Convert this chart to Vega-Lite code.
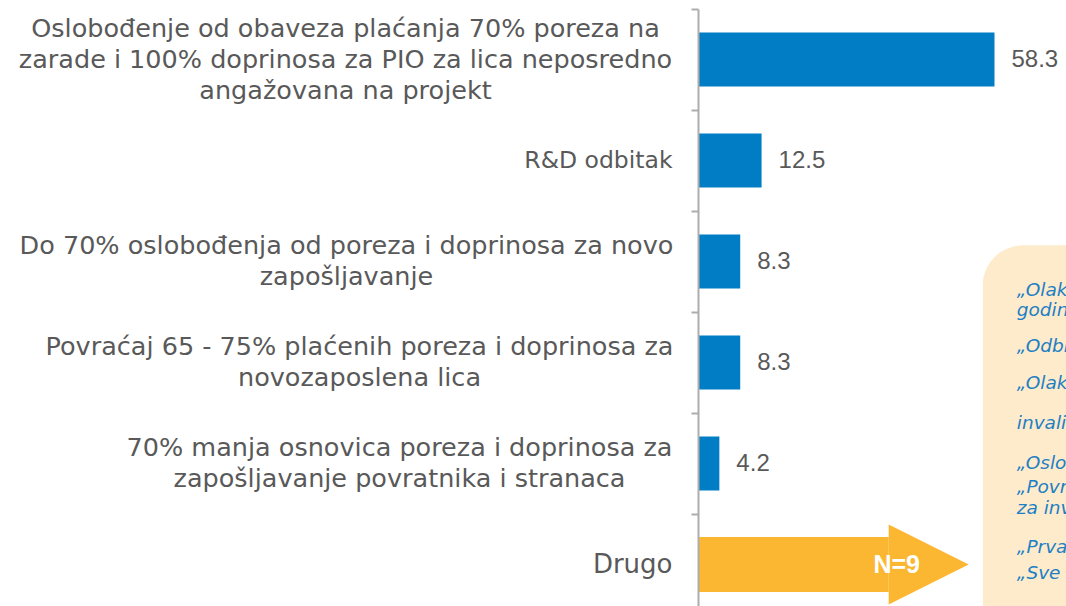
{
  "$schema": "https://vega.github.io/schema/vega-lite/v6.json",
  "width": 356,
  "height": 606,
  "autosize": {"type": "none"},
  "padding": {"left": 698, "top": 0, "right": 12, "bottom": 0},
  "background": "white",
  "config": {"view": {"stroke": null}, "font": "DejaVu Sans"},
  "datasets": {
    "bars": [
      {"label": "Oslobođenje od obaveza plaćanja 70% poreza na\nzarade i 100% doprinosa za PIO za lica neposredno\nangažovana na projekt", "value": 58.3, "arrow": null, "note": null},
      {"label": "R&D odbitak", "value": 12.5, "arrow": null, "note": null},
      {"label": "Do 70% oslobođenja od poreza i doprinosa za novo\nzapošljavanje", "value": 8.3, "arrow": null, "note": null},
      {"label": "Povraćaj 65 - 75% plaćenih poreza i doprinosa za\nnovozaposlena lica", "value": 8.3, "arrow": null, "note": null},
      {"label": "70% manja osnovica poreza i doprinosa za\nzapošljavanje povratnika i stranaca", "value": 4.2, "arrow": null, "note": null},
      {"label": "Drugo", "value": null, "arrow": 37.5, "note": "N=9"}
    ],
    "box": [{"x1": 56, "x2": 150, "y1": 2.34, "y2": 7}],
    "comments": [
      {"line": "„Olakšice za ulaganja u trajanju od 10", "pos": 2.782},
      {"line": "godina“", "pos": 2.985},
      {"line": "„Odbitak za ulaganja u osnovna sredstva“", "pos": 3.337},
      {"line": "„Olakšice za zapošljavanje osoba sa", "pos": 3.703},
      {"line": "invaliditetom“", "pos": 4.099},
      {"line": "„Oslobođenje od poreza na imovinu“", "pos": 4.495},
      {"line": "„Povraćaj dela sredstava uloženih", "pos": 4.728},
      {"line": "za investicije“", "pos": 4.936},
      {"line": "„Prva godina poslovanja bez poreza“", "pos": 5.327},
      {"line": "„Sve navedeno“", "pos": 5.584}
    ]
  },
  "layer": [
    {
      "data": {"name": "bars"},
      "resolve": {"axis": {"y": "independent"}},
      "layer": [
        {
          "mark": {"type": "bar", "color": "#007DC5", "height": {"band": 0.535}},
          "encoding": {
            "y": {
              "field": "label", "type": "nominal", "sort": null,
              "scale": {
                "domain": [
                  "Oslobođenje od obaveza plaćanja 70% poreza na\nzarade i 100% doprinosa za PIO za lica neposredno\nangažovana na projekt",
                  "R&D odbitak",
                  "Do 70% oslobođenja od poreza i doprinosa za novo\nzapošljavanje",
                  "Povraćaj 65 - 75% plaćenih poreza i doprinosa za\nnovozaposlena lica",
                  "70% manja osnovica poreza i doprinosa za\nzapošljavanje povratnika i stranaca",
                  "Drugo"
                ],
                "range": [9, 615], "paddingInner": 0, "paddingOuter": 0
              },
              "axis": {
                "orient": "left", "title": null, "zindex": 1,
                "domain": true, "domainColor": "#ADADAD", "domainWidth": 2,
                "ticks": true, "tickColor": "#ADADAD", "tickWidth": 2, "tickSize": 7, "tickBand": "extent",
                "grid": false,
                "labelPadding": 19, "labelAlign": "right", "labelBaseline": "middle",
                "labelFont": "DejaVu Sans",
                "labelFontSize": {"condition": {"test": "datum.label == 'Drugo'", "value": 26}, "value": 23.5},
                "labelColor": "#595959", "labelLimit": 0,
                "labelExpr": "datum.label == 'R&D odbitak' || datum.label == 'Drugo' ? datum.label : ''"
              }
            },
            "x": {"field": "value", "type": "quantitative", "scale": {"domain": [0, 70]}, "axis": null}
          }
        },
        {
          "mark": {"type": "text", "align": "left", "baseline": "middle", "dx": 17, "fontSize": 24, "color": "#595959", "font": "Liberation Sans"},
          "encoding": {
            "y": {
              "field": "label", "type": "nominal", "sort": null,
              "axis": {
                "orient": "left", "title": null, "domain": false, "ticks": false, "tickSize": 0, "grid": false,
                "labelPadding": 353, "labelOffset": -31, "labelAlign": "center", "labelBaseline": "middle", "labelLineHeight": 31,
                "labelFont": "DejaVu Sans", "labelFontSize": 25.5, "labelColor": "#595959", "labelLimit": 0,
                "labelExpr": "indexof(datum.label, 'Oslobo') == 0 ? split(datum.label, '\\n') : ''"
              }
            },
            "x": {"field": "value", "type": "quantitative", "scale": {"domain": [0, 70]}, "axis": null},
            "text": {"field": "value", "type": "quantitative", "format": ".1f"}
          }
        },
        {
          "mark": {"type": "bar", "color": "#FBB731", "height": {"band": 0.545}},
          "encoding": {
            "y": {
              "field": "label", "type": "nominal", "sort": null,
              "axis": {
                "orient": "left", "title": null, "domain": false, "ticks": false, "tickSize": 0, "grid": false,
                "labelPadding": 352, "labelOffset": -15.5, "labelAlign": "center", "labelBaseline": "middle", "labelLineHeight": 31,
                "labelFont": "DejaVu Sans", "labelFontSize": 25.5, "labelColor": "#595959", "labelLimit": 0,
                "labelExpr": "indexof(datum.label, 'Do 70') == 0 ? split(datum.label, '\\n') : ''"
              }
            },
            "x": {"field": "arrow", "type": "quantitative", "scale": {"domain": [0, 70]}, "axis": null}
          }
        },
        {
          "mark": {"type": "point", "shape": "M0,-1L2,0L0,1Z", "size": 6400, "filled": true, "opacity": 1, "color": "#FBB731", "strokeWidth": 0},
          "encoding": {
            "y": {
              "field": "label", "type": "nominal", "sort": null,
              "axis": {
                "orient": "left", "title": null, "domain": false, "ticks": false, "tickSize": 0, "grid": false,
                "labelPadding": 339, "labelOffset": -15.5, "labelAlign": "center", "labelBaseline": "middle", "labelLineHeight": 31,
                "labelFont": "DejaVu Sans", "labelFontSize": 25.5, "labelColor": "#595959", "labelLimit": 0,
                "labelExpr": "indexof(datum.label, 'Povra') == 0 ? split(datum.label, '\\n') : ''"
              }
            },
            "x": {"field": "arrow", "type": "quantitative", "scale": {"domain": [0, 70]}, "axis": null}
          }
        },
        {
          "mark": {"type": "text", "align": "center", "baseline": "middle", "dx": 8, "fontSize": 25, "fontWeight": "bold", "color": "white", "font": "Liberation Sans"},
          "encoding": {
            "y": {
              "field": "label", "type": "nominal", "sort": null,
              "axis": {
                "orient": "left", "title": null, "domain": false, "ticks": false, "tickSize": 0, "grid": false,
                "labelPadding": 299, "labelOffset": -15.5, "labelAlign": "center", "labelBaseline": "middle", "labelLineHeight": 31,
                "labelFont": "DejaVu Sans", "labelFontSize": 25.5, "labelColor": "#595959", "labelLimit": 0,
                "labelExpr": "indexof(datum.label, '70% manja') == 0 ? split(datum.label, '\\n') : ''"
              }
            },
            "x": {"field": "arrow", "type": "quantitative", "scale": {"domain": [0, 70]}, "axis": null},
            "text": {"field": "note", "type": "nominal"}
          }
        }
      ]
    },
    {
      "layer": [
        {
          "data": {"name": "box"},
          "mark": {"type": "rect", "color": "#FDEBCB", "cornerRadius": 40},
          "encoding": {
            "x": {"field": "x1", "type": "quantitative", "scale": {"domain": [0, 70]}, "axis": null},
            "x2": {"field": "x2"},
            "y": {"field": "y1", "type": "quantitative", "scale": {"domain": [0, 6], "range": [9, 615]}, "axis": null},
            "y2": {"field": "y2"}
          }
        },
        {
          "data": {"name": "comments"},
          "mark": {"type": "text", "align": "left", "baseline": "middle", "dx": 34, "fontSize": 18.5, "fontStyle": "italic", "color": "#1E7FC5", "font": "DejaVu Sans"},
          "encoding": {
            "x": {"datum": 56, "type": "quantitative", "scale": {"domain": [0, 70]}, "axis": null},
            "y": {"field": "pos", "type": "quantitative", "axis": null},
            "text": {"field": "line", "type": "nominal"}
          }
        }
      ]
    }
  ],
  "resolve": {"scale": {"y": "independent"}}
}
